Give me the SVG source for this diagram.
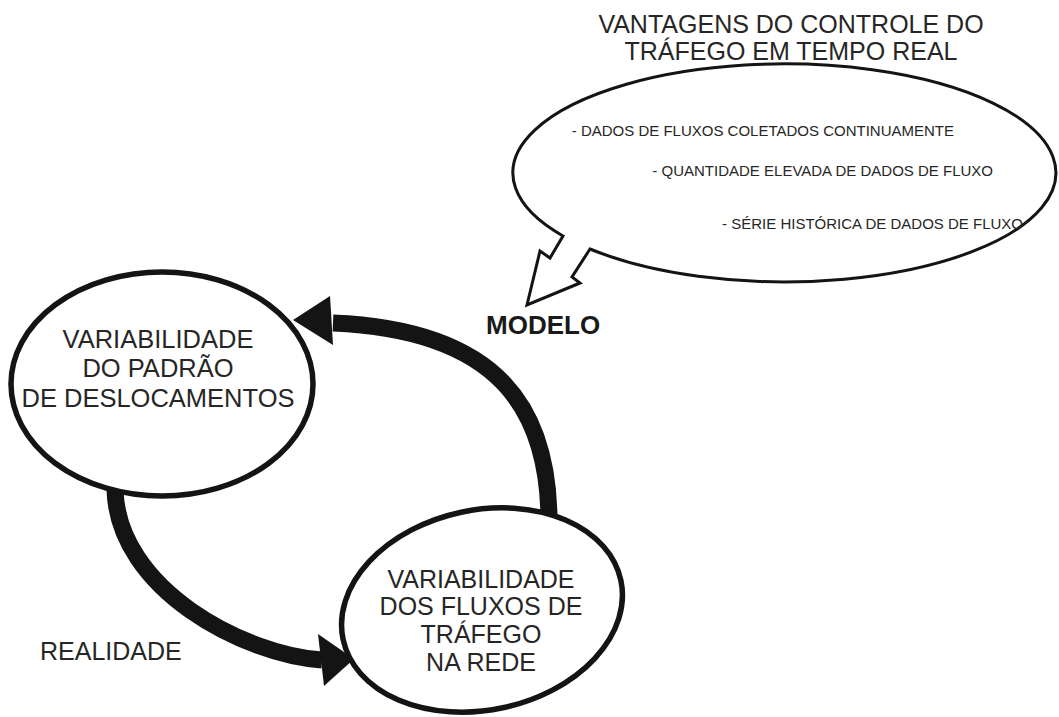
<svg xmlns="http://www.w3.org/2000/svg" width="1059" height="717" viewBox="0 0 1059 717">
  <style>
    .txt { font-family: "Liberation Sans", Arial, sans-serif; fill: #262626; }
    .big { font-size: 25px; }
    .node-txt { font-size: 25.5px; }
    .small { font-size: 15px; }
    .bold { font-weight: bold; font-size: 26px; fill: #1a1a1a; }
    .node { fill: #ffffff; stroke: #141414; stroke-width: 5.5; }
    .band { fill: none; stroke: #141414; stroke-width: 17; stroke-linecap: butt; }
    .head { fill: #141414; stroke: none; }
    .bubble { fill: #ffffff; stroke: #141414; stroke-width: 3; stroke-linejoin: miter; }
  </style>

  <rect width="1059" height="717" fill="#ffffff"/>

  <!-- title above the speech bubble -->
  <g id="title">
    <text class="txt big" x="791" y="33" text-anchor="middle">VANTAGENS DO CONTROLE DO</text>
    <text class="txt big" x="791" y="60" text-anchor="middle">TRÁFEGO EM TEMPO REAL</text>
  </g>

  <!-- speech bubble with zig-zag tail -->
  <g id="bubble">
    <path class="bubble" d="M 590,249 A 271.5 109 0 1 0 563,236 L 550,258 L 540,251 L 527,305 L 580,283 L 572,277 Z"/>
    <text class="txt small" x="954" y="136" text-anchor="end">- DADOS DE FLUXOS COLETADOS CONTINUAMENTE</text>
    <text class="txt small" x="993" y="176" text-anchor="end">- QUANTIDADE ELEVADA DE DADOS DE FLUXO</text>
    <text class="txt small" x="1023" y="229" text-anchor="end">- SÉRIE HISTÓRICA DE DADOS DE FLUXO</text>
  </g>

  <!-- curved thick connectors (drawn under the nodes) -->
  <g id="connectors">
    <path class="band" d="M 549,525 C 550,410 500,330 333,323"/>
    <polygon class="head" points="293,320 330,296 333,345"/>
    <path class="band" d="M 115,490 C 118,590 245,655 322,660"/>
    <polygon class="head" points="354,659 318,634 324,686"/>
  </g>

  <!-- connector labels -->
  <g id="labels">
    <text class="txt bold" x="486" y="334">MODELO</text>
    <text class="txt big" x="40" y="660">REALIDADE</text>
  </g>

  <g id="node-padrao">
    <ellipse class="node" cx="162" cy="384" rx="151" ry="112"/>
    <text class="txt node-txt" x="158" y="348" text-anchor="middle">VARIABILIDADE</text>
    <text class="txt node-txt" x="158" y="377" text-anchor="middle">DO PADRÃO</text>
    <text class="txt node-txt" x="158" y="407" text-anchor="middle">DE DESLOCAMENTOS</text>
  </g>

  <g id="node-fluxos">
    <ellipse class="node" cx="0" cy="0" rx="142" ry="100" transform="translate(482 610) rotate(-12)"/>
    <text class="txt big" x="481" y="588" text-anchor="middle">VARIABILIDADE</text>
    <text class="txt big" x="481" y="615" text-anchor="middle">DOS FLUXOS DE</text>
    <text class="txt big" x="481" y="643" text-anchor="middle">TRÁFEGO</text>
    <text class="txt big" x="481" y="671" text-anchor="middle">NA REDE</text>
  </g>
</svg>
